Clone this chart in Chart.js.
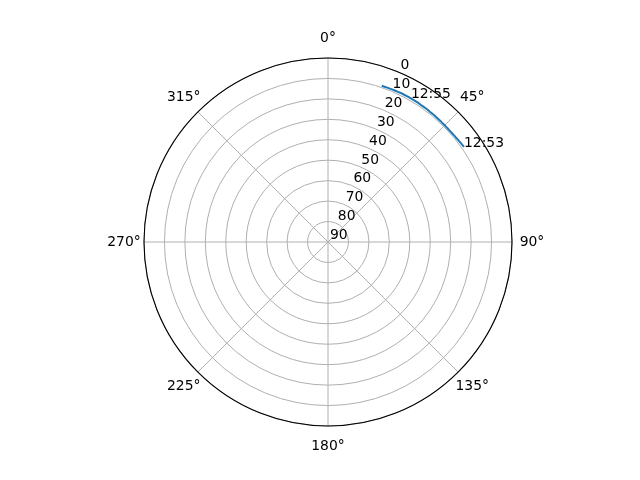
<!DOCTYPE html>
<html>
<head>
<meta charset="utf-8">
<script src="https://cdn.jsdelivr.net/npm/chart.js@4"></script>
<style>
html,body{margin:0;padding:0;background:#ffffff;}
#wrap{width:640px;height:480px;position:relative;}
</style>
</head>
<body>
<div id="wrap"><canvas id="c"></canvas></div>
<script>
// Azimuth categories (degrees, clockwise from north)
const azimuthCategories = Array.from({length: 360}, (_, i) => i);
// Satellite track: azimuth (deg) and elevation (deg)
const trackAzimuth = [19,20,21,22,23,24,25,26,27,28,29,30,31,32,33,34,35,36,37,38,39,40,41,42,43,44,45,46,47,48,49,50,51,52,53,54,55];
const trackElevation = [9.2,9.2,9.1,9.1,9.0,9.0,9.0,8.9,8.9,8.9,8.9,8.9,8.9,8.9,8.9,9.0,9.0,9.0,9.0,9.1,9.1,9.1,9.2,9.2,9.2,9.3,9.3,9.3,9.3,9.3,9.3,9.2,9.2,9.1,9.0,8.9,8.8];
// Time annotations along the track
const annotationTimes = ['12:53', '12:55'];
const annotationAzimuths = [55, 30];
// Angular tick labels
const thetaTickAngles = [0, 45, 90, 135, 180, 225, 270, 315];
const thetaTickLabels = ['0°', '45°', '90°', '135°', '180°', '225°', '270°', '315°'];
// Radial (elevation) tick labels
const radialTicks = [0, 10, 20, 30, 40, 50, 60, 70, 80, 90];
const radialLabelAngle = 22.5;

const trackData = azimuthCategories.map(() => null);
trackAzimuth.forEach((az, i) => { trackData[az] = trackElevation[i]; });

const FONT = "13.9px 'DejaVu Sans'";

const polarDecor = {
  id: 'polarDecor',
  beforeDraw(chart) {
    const ctx = chart.ctx;
    ctx.save();
    ctx.fillStyle = '#ffffff';
    ctx.fillRect(0, 0, chart.width, chart.height);
    ctx.restore();
  },
  beforeDatasetsDraw(chart) {
    const r = chart.scales.r;
    const ctx = chart.ctx;
    ctx.save();
    ctx.strokeStyle = '#000000';
    ctx.lineWidth = 1.1;
    ctx.beginPath();
    ctx.arc(r.xCenter, r.yCenter, r.drawingArea, 0, Math.PI * 2);
    ctx.stroke();
    ctx.restore();
  },
  afterDraw(chart) {
    const r = chart.scales.r;
    const ctx = chart.ctx;
    ctx.save();
    ctx.font = FONT;
    ctx.fillStyle = '#000000';
    // angular labels
    ctx.textAlign = 'center';
    ctx.textBaseline = 'middle';
    thetaTickAngles.forEach((a, i) => {
      const p = r.getPointPosition(a, r.drawingArea + 20);
      ctx.fillText(thetaTickLabels[i], p.x, p.y);
    });
    // radial labels
    ctx.textAlign = 'left';
    ctx.textBaseline = 'middle';
    radialTicks.forEach(v => {
      const d = r.getDistanceFromCenterForValue(v);
      const p = r.getPointPosition(radialLabelAngle, d);
      ctx.fillText(String(v), p.x + 2, p.y - 6.5);
    });
    // time annotations
    const meta = chart.getDatasetMeta(0);
    ctx.textBaseline = 'alphabetic';
    annotationAzimuths.forEach((az, i) => {
      const el = meta.data[az];
      ctx.fillText(annotationTimes[i], el.x, el.y);
    });
    ctx.restore();
  }
};

new Chart(document.getElementById('c'), {
  type: 'radar',
  data: {
    labels: azimuthCategories,
    datasets: [{
      data: trackData,
      borderColor: '#1f77b4',
      borderWidth: 2,
      pointRadius: 0,
      pointHoverRadius: 0,
      fill: false,
      tension: 0,
      spanGaps: false
    }]
  },
  options: {
    responsive: true,
    maintainAspectRatio: false,
    animation: false,
    layout: { padding: { left: 16, right: 0, top: 58, bottom: 54 } },
    plugins: { legend: { display: false }, tooltip: { enabled: false } },
    scales: {
      r: {
        min: 0,
        max: 90,
        reverse: true,
        startAngle: 0,
        ticks: { display: false, stepSize: 10 },
        pointLabels: { display: false },
        grid: { circular: true, color: '#b0b0b0', lineWidth: 1 },
        angleLines: {
          display: true,
          color: '#b0b0b0',
          lineWidth: (ctx) => (ctx.index % 45 === 0 ? 1 : 0)
        }
      }
    }
  },
  plugins: [polarDecor]
});
</script>
</body>
</html>
